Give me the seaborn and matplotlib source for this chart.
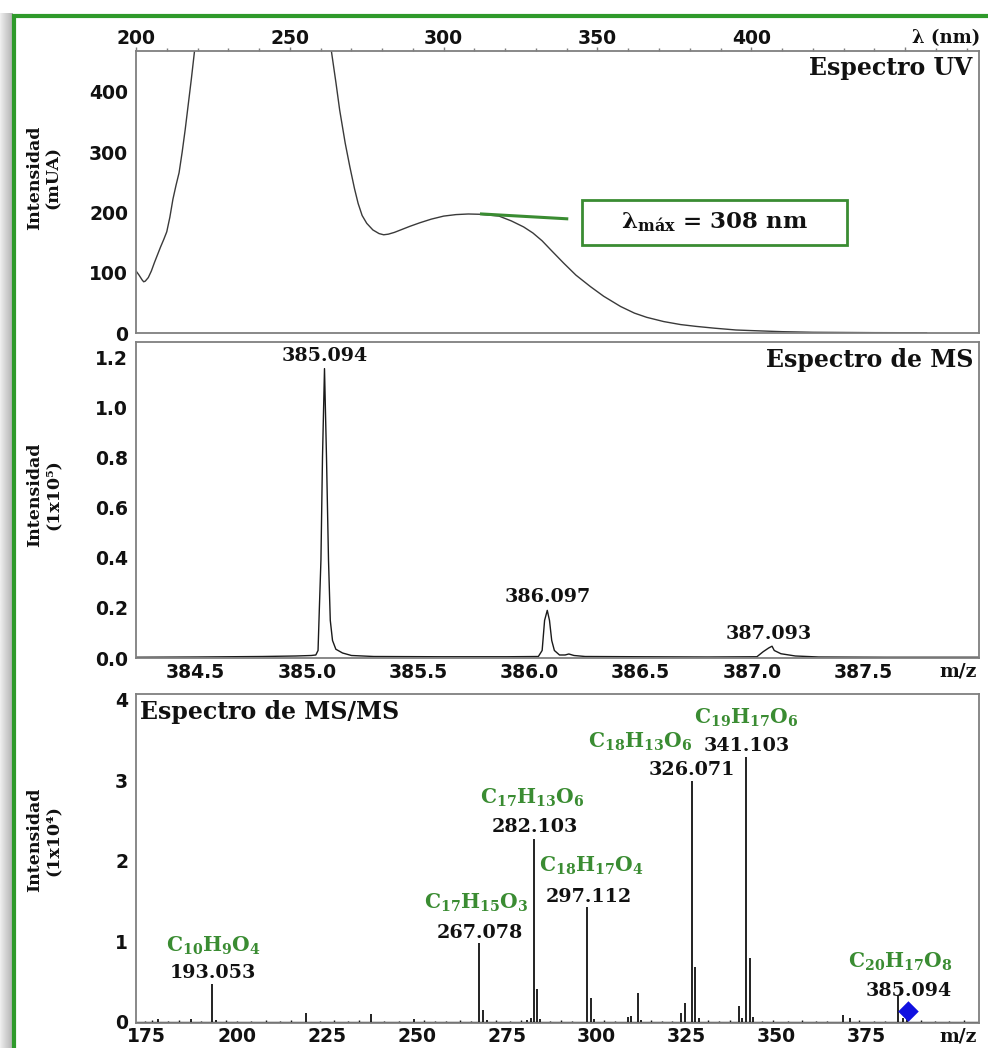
import numpy as np
import pandas as pd
import matplotlib
matplotlib.use("Agg")
import matplotlib.pyplot as plt
import seaborn as sns
from matplotlib.patches import Rectangle
from matplotlib.ticker import MultipleLocator

# ---------------- data ----------------
uv_nm = [200, 201, 202, 202.5, 203, 204, 205, 206, 207, 208, 209, 210, 211, 212, 213, 214,
         215, 216, 217, 218, 219, 220, 225, 235, 245, 255, 260, 262, 263.5, 265, 266.2,
         268, 269.5, 271, 272.2, 273.5, 275, 277, 279, 280.5, 282, 284, 286, 289, 292.3,
         296, 300, 304, 308, 312, 318, 322, 326, 329, 332, 335, 339, 343, 347.7, 352,
         357.5, 362, 366, 371.5, 377, 382, 388, 395, 400, 410, 420, 440, 457]
uv_mau = [103, 96, 88, 85, 86, 92, 103, 117, 130, 143, 155, 168, 192, 222, 245, 266,
          300, 338, 380, 422, 467, 530, 800, 950, 900, 780, 600, 520, 468, 415, 370,
          315, 276, 240, 215, 195, 182, 171, 165, 163, 164, 167, 171, 177, 183,
          189, 194, 196.5, 197.5, 197, 194, 186, 176, 166, 153, 137, 116, 96, 77, 61,
          44, 33, 26, 19, 14, 11, 8, 5, 4, 2.2, 1.2, 0.6, 0.4]

ms_mz = [384.23, 384.5, 384.8, 384.95, 385.02, 385.04, 385.05, 385.056, 385.063, 385.07,
         385.079, 385.088, 385.097, 385.105, 385.115, 385.13, 385.16, 385.2, 385.3, 385.6,
         385.9, 386.04, 386.057, 386.068, 386.08, 386.09, 386.1, 386.112, 386.135, 386.16,
         386.177, 386.2, 386.25, 386.5, 386.8, 387.022, 387.05, 387.075, 387.09, 387.1,
         387.13, 387.195, 387.3, 387.6, 388.02]
ms_int = [0.003, 0.004, 0.006, 0.008, 0.010, 0.012, 0.03, 0.2, 0.39, 0.8,
          1.154, 0.8, 0.39, 0.15, 0.07, 0.035, 0.02, 0.01, 0.006, 0.005,
          0.005, 0.006, 0.03, 0.15, 0.19, 0.15, 0.07, 0.03, 0.012, 0.012,
          0.016, 0.01, 0.006, 0.005, 0.004, 0.005, 0.025, 0.04, 0.047, 0.03,
          0.017, 0.008, 0.004, 0.003, 0.003]
ms_labels = ["385.094", "386.097", "387.093"]
ms_label_mz = [385.079, 386.08, 387.075]
ms_label_int = [1.203, 0.243, 0.097]

msms_mz = [178.2, 187.2, 193.2, 194.3, 219.2, 237.2, 249.3, 267.4, 268.3, 269.4,
           280.6, 281.6, 282.5, 283.4, 284.3, 297.4, 298.4, 299.3, 308.6, 309.4,
           311.4, 312.3, 323.4, 324.4, 326.4, 327.4, 328.3, 339.4, 340.4, 341.6,
           342.6, 343.5, 368.5, 370.4, 383.6, 385.2, 386.1]
msms_int = [0.03, 0.03, 0.464, 0.025, 0.11, 0.09, 0.03, 0.973, 0.145, 0.02,
            0.02, 0.04, 2.267, 0.40, 0.03, 1.419, 0.29, 0.03, 0.06, 0.07,
            0.36, 0.02, 0.11, 0.23, 2.986, 0.68, 0.05, 0.19, 0.04, 3.288,
            0.79, 0.06, 0.08, 0.04, 0.32, 0.04, 0.05]
noise_mz = [174.5, 176.5, 181, 184, 190, 197, 200, 204, 208, 212, 215, 223, 227, 231,
            234, 241, 245, 252, 255, 258, 262, 265, 272, 276, 279, 287, 290, 293, 302,
            305, 315, 318, 321, 331, 334, 337, 346, 349, 353, 357, 361, 364, 373, 377,
            380, 390, 394, 398, 402]
noise_int = [0.012, 0.015, 0.01, 0.014, 0.012, 0.015, 0.01, 0.012, 0.015, 0.01, 0.013,
             0.012, 0.014, 0.01, 0.015, 0.012, 0.01, 0.015, 0.012, 0.01, 0.014, 0.012,
             0.015, 0.01, 0.013, 0.012, 0.015, 0.01, 0.014, 0.012, 0.015, 0.01, 0.012,
             0.015, 0.01, 0.013, 0.012, 0.015, 0.01, 0.014, 0.012, 0.01, 0.015, 0.012,
             0.01, 0.014, 0.012, 0.01, 0.015]
precursor_mz = [386.6]
precursor_int = [0.124]

frag_formula = [r"$C_{10}H_{9}O_{4}$", r"$C_{17}H_{15}O_{3}$", r"$C_{17}H_{13}O_{6}$",
                r"$C_{18}H_{17}O_{4}$", r"$C_{18}H_{13}O_{6}$", r"$C_{19}H_{17}O_{6}$",
                r"$C_{20}H_{17}O_{8}$"]
frag_mass = ["193.053", "267.078", "282.103", "297.112", "326.071", "341.103", "385.094"]
# label anchor positions (data coords): formula centre, mass centre
frag_formula_xy = [(193.4, 0.94), (266.5, 1.47), (282.2, 2.78), (298.6, 1.93),
                   (312.2, 3.47), (341.4, 3.77), (384.25, 0.74)]
frag_mass_xy = [(193.4, 0.60), (267.6, 1.10), (282.9, 2.42), (297.7, 1.55),
                (326.5, 3.12), (341.8, 3.43), (386.75, 0.38)]

uv_xticks = [200, 250, 300, 350, 400, 450]
uv_xticklabels = ["200", "250", "300", "350", "400", ""]
uv_yticks = [0, 100, 200, 300, 400]
ms_xticks = [384.5, 385.0, 385.5, 386.0, 386.5, 387.0, 387.5, 388.0]
ms_xticklabels = ["384.5", "385.0", "385.5", "386.0", "386.5", "387.0", "387.5", ""]
ms_yticks = [0.0, 0.2, 0.4, 0.6, 0.8, 1.0, 1.2]
msms_xticks = [175, 200, 225, 250, 275, 300, 325, 350, 375, 400]
msms_xticklabels = ["175", "200", "225", "250", "275", "300", "325", "350", "375", ""]
msms_yticks = [0, 1, 2, 3, 4]

# ---------------- style ----------------
sns.set_theme(style="white")
plt.rcParams['font.family'] = ['DejaVu Serif']
plt.rcParams['mathtext.fontset'] = 'custom'
plt.rcParams['mathtext.rm'] = 'DejaVu Serif:bold'
plt.rcParams['mathtext.it'] = 'DejaVu Serif:bold'
plt.rcParams['mathtext.bf'] = 'DejaVu Serif:bold'
plt.rcParams['mathtext.default'] = 'rm'
plt.rcParams['text.color'] = '#111111'
plt.rcParams['axes.labelcolor'] = '#111111'
plt.rcParams['xtick.labelcolor'] = '#111111'
plt.rcParams['ytick.labelcolor'] = '#111111'

GREEN_FRAME = "#2f9a2b"
GREEN = "#3a8c32"
SPINE = "#7f7f7f"
TICKFONT = dict(fontfamily="DejaVu Sans", fontweight="bold", fontsize=13.5)

W, H = 988, 1048
fig = plt.figure(figsize=(W / 100, H / 100), dpi=100)


def px_axes(left, top, right, bottom):
    return fig.add_axes([left / W, 1 - bottom / H, (right - left) / W, (bottom - top) / H])


ax1 = px_axes(136, 51, 979, 333)
ax2 = px_axes(136, 342, 979, 658)
ax3 = px_axes(136, 694, 979, 1022.5)


def style_axes(ax, xpad):
    for s in ax.spines.values():
        s.set_color(SPINE)
        s.set_linewidth(1.3)
    ax.tick_params(which="both", direction="out", color=SPINE, width=1, labelcolor="#111111")
    ax.tick_params(which="major", length=3)
    ax.tick_params(which="minor", length=2)
    ax.tick_params(axis="x", which="both", pad=xpad)
    ax.tick_params(axis="y", which="both", pad=2.7)


def ylabel(ax, text, ypos):
    ax.set_ylabel(text, fontsize=12.5, fontweight="bold", linespacing=1.1, color="#111111")
    ax.yaxis.label.set_va("center")
    ax.yaxis.set_label_coords(-0.109, ypos)


# ---------------- UV panel ----------------
sns.lineplot(x=uv_nm, y=uv_mau, ax=ax1, color="#3a3a3a", lw=1.0, estimator=None, sort=False)
ax1.set_xlim(200, 474)
ax1.set_ylim(0, 468)
style_axes(ax1, -0.8)
ax1.xaxis.tick_top()
ax1.set_xticks(uv_xticks, uv_xticklabels, **TICKFONT)
ax1.xaxis.set_minor_locator(MultipleLocator(10))
ax1.set_yticks(uv_yticks, [str(v) for v in uv_yticks], **TICKFONT)
ax1.yaxis.set_minor_locator(MultipleLocator(20))
ax1.tick_params(axis="x", which="both", bottom=False, top=True)
ylabel(ax1, "Intensidad\n(mUA)", 0.55)
ax1.set_xlabel("")
ax1.text(1.001, 1.046, "λ (nm)", transform=ax1.transAxes, ha="right", va="center",
         fontsize=13, fontweight="bold")
ax1.text(0.9925, 0.94, "Espectro UV", transform=ax1.transAxes, ha="right", va="center",
         fontsize=17, fontweight="bold")
ax1.plot([311.8, 340.5], [197.7, 189.4], color=GREEN, lw=2.2, solid_capstyle="butt")
ax1.add_patch(Rectangle((345, 146), 86, 75, fill=True, fc="white", ec=GREEN, lw=2))
ax1.text(388.1, 183.6, r"$\lambda_{máx}$ = 308 nm", ha="center", va="center",
         fontsize=16.5, fontweight="bold")

# ---------------- MS panel ----------------
sns.lineplot(x=ms_mz, y=ms_int, ax=ax2, color="#1a1a1a", lw=1.0, estimator=None, sort=False)
ax2.set_xlim(384.232, 388.02)
ax2.set_ylim(0, 1.26)
style_axes(ax2, 0.4)
ax2.set_xticks(ms_xticks, ms_xticklabels, **TICKFONT)
ax2.xaxis.set_minor_locator(MultipleLocator(0.1))
ax2.set_yticks(ms_yticks, [f"{v:.1f}" for v in ms_yticks], **TICKFONT)
ax2.yaxis.set_minor_locator(MultipleLocator(0.1))
ylabel(ax2, "Intensidad\n(1x10⁵)", 0.516)
for lab, x, y in zip(ms_labels, ms_label_mz, ms_label_int):
    ax2.text(x, y, lab, ha="center", va="center", fontsize=13.8, fontweight="bold")
ax2.text(0.993, 0.943, "Espectro de MS", transform=ax2.transAxes, ha="right", va="center",
         fontsize=17, fontweight="bold")
ax2.text(0.975, -0.043, "m/z", transform=ax2.transAxes, ha="center", va="center",
         fontsize=13.5, fontweight="bold")

# ---------------- MS/MS panel ----------------
ax3.axhline(0, color="#1a1a1a", lw=1.0)
ax3.vlines(noise_mz, 0, noise_int, color="#1a1a1a", lw=1.0)
ax3.vlines(msms_mz, 0, msms_int, color="#111111", lw=1.3)
sns.scatterplot(x=precursor_mz, y=precursor_int, ax=ax3, marker="D", s=110,
                color="#1010e0", edgecolor="none", zorder=5)
ax3.set_xlim(172, 406.2)
ax3.set_ylim(-0.012, 4.07)
style_axes(ax3, 0.4)
ax3.set_xticks(msms_xticks, msms_xticklabels, **TICKFONT)
ax3.xaxis.set_minor_locator(MultipleLocator(12.5))
ax3.set_yticks(msms_yticks, [str(v) for v in msms_yticks], **TICKFONT)
ax3.yaxis.set_minor_locator(MultipleLocator(0.2))
ylabel(ax3, "Intensidad\n(1x10⁴)", 0.555)
for f, (fx, fy), m, (mx, my) in zip(frag_formula, frag_formula_xy, frag_mass, frag_mass_xy):
    ax3.text(fx, fy, f, ha="center", va="center", fontsize=14.5, color=GREEN)
    ax3.text(mx, my, m, ha="center", va="center", fontsize=13.8, fontweight="bold")
ax3.text(0.005, 0.946, "Espectro de MS/MS", transform=ax3.transAxes, ha="left", va="center",
         fontsize=17, fontweight="bold")
ax3.text(0.975, -0.043, "m/z", transform=ax3.transAxes, ha="center", va="center",
         fontsize=13.5, fontweight="bold")

# ---------------- frame ----------------
shadow = fig.add_axes([0, 0, 12 / W, 1 - 13 / H])
shadow.imshow(np.linspace(0.93, 0.70, 12)[None, :], cmap="gray", vmin=0, vmax=1,
              aspect="auto", extent=[0, 1, 0, 1])
shadow.set_axis_off()
fig.add_artist(Rectangle((13.5 / W, -0.05), 1.2, 1 - 15.5 / H + 0.05, transform=fig.transFigure,
                         fill=False, ec=GREEN_FRAME, lw=3))

fig.savefig("out.png", dpi=100)
